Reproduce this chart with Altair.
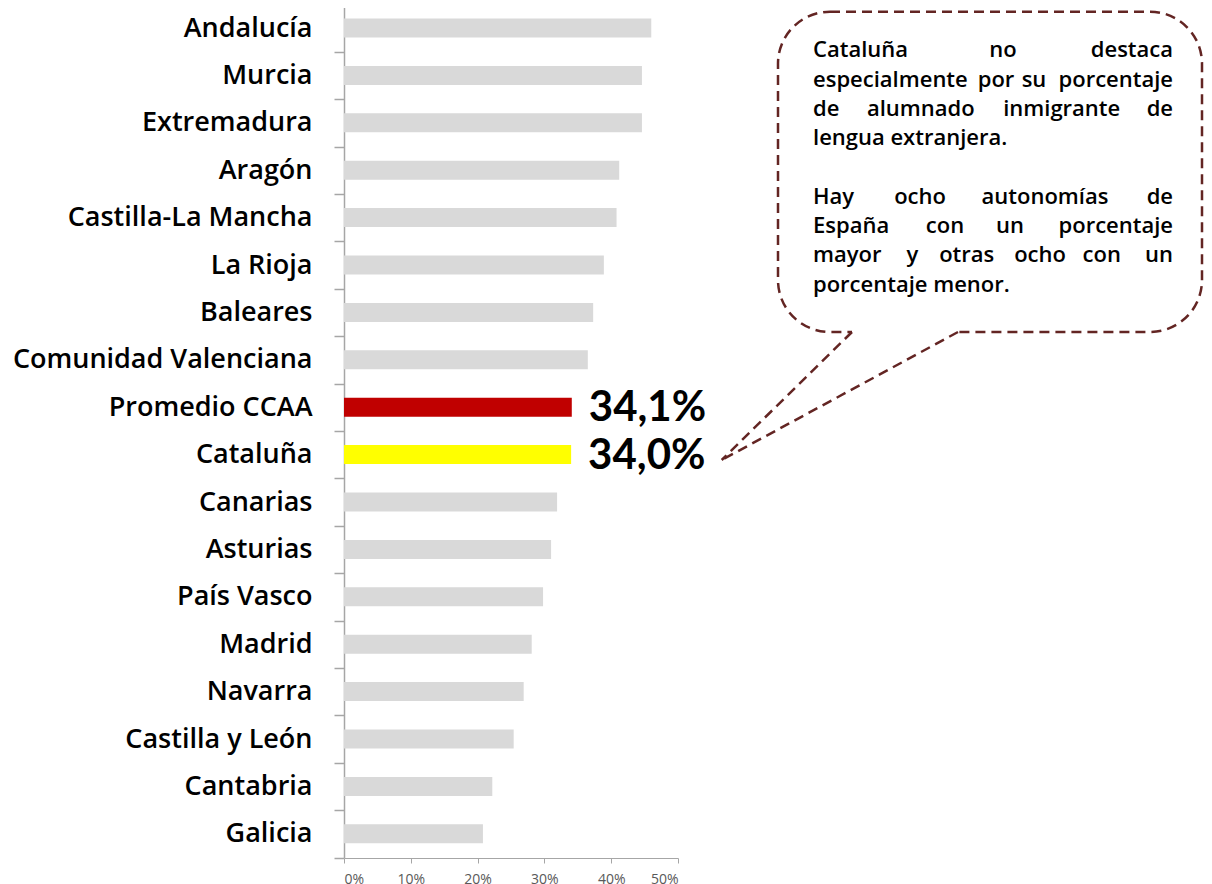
import altair as alt
import pandas as pd

# ---- data ----
regions = ["Andalucía", "Murcia", "Extremadura", "Aragón", "Castilla-La Mancha",
           "La Rioja", "Baleares", "Comunidad Valenciana", "Promedio CCAA", "Cataluña",
           "Canarias", "Asturias", "País Vasco", "Madrid", "Navarra",
           "Castilla y León", "Cantabria", "Galicia"]
values_pct = [46.0, 44.6, 44.6, 41.2, 40.8, 38.9, 37.3, 36.5, 34.1, 34.0,
              31.9, 31.0, 29.8, 28.1, 26.9, 25.4, 22.2, 20.8]
highlight_colors = {"Promedio CCAA": "#c00000", "Cataluña": "#ffff00"}
base_color = "#d9d9d9"
x_ticks = [0, 0.1, 0.2, 0.3, 0.4, 0.5]

callout_lines = [
    ["Cataluña", "no", "destaca"],
    ["especialmente", "por", "su", "porcentaje"],
    ["de", "alumnado", "inmigrante", "de"],
    ["lengua extranjera."],
    ["Hay", "ocho", "autonomías", "de"],
    ["España", "con", "un", "porcentaje"],
    ["mayor", "y", "otras", "ocho", "con", "un"],
    ["porcentaje menor."],
]

df = pd.DataFrame({"region": regions, "value": [v / 100 for v in values_pct]})
df["color"] = [highlight_colors.get(r, base_color) for r in regions]
df["label"] = [(f"{v:.1f}%".replace(".", ",") if r in highlight_colors else "")
               for r, v in zip(regions, values_pct)]

# ---- layout (page pixel positions of the annotation) ----
TEXT_LEFT, TEXT_RIGHT = 813, 1173
line_baselines = [57.3, 87.3, 116.3, 145.3, 204.0, 233.2, 262.3, 292.0]
mid_centers = [
    [1003],
    [996, 1034],
    [920.8, 1061.7],
    [],
    [920, 1045],
    [945, 1010],
    [912.5, 966.7, 1040, 1101.7],
    [],
]
rows = []
for words, yb, mids in zip(callout_lines, line_baselines, mid_centers):
    if len(words) == 1:
        rows.append({"w": words[0], "px": TEXT_LEFT, "py": yb, "al": "left"})
        continue
    rows.append({"w": words[0], "px": TEXT_LEFT, "py": yb, "al": "left"})
    for w, c in zip(words[1:-1], mids):
        rows.append({"w": w, "px": c, "py": yb, "al": "center"})
    rows.append({"w": words[-1], "px": TEXT_RIGHT, "py": yb, "al": "right"})
words_df = pd.DataFrame(rows)

box_df = pd.DataFrame({"x": [778], "x2": [1202], "y": [11.7], "y2": [332]})
gap_df = pd.DataFrame({"x": [852], "x2": [958], "y": [332], "y2": [332]})
tail_df = pd.DataFrame({"x": [852, 958], "y": [332, 332], "x2": [721.7, 721.7], "y2": [460, 460]})

CALLOUT = "#632523"

# ---- bar chart ----
y_enc = alt.Y(
    "region:N", sort=regions,
    scale=alt.Scale(domain=regions, range=[-3.7, 849.5], paddingInner=0, paddingOuter=0),
    axis=alt.Axis(title=None, labelFont="Open Sans", labelFontSize=27, labelFontWeight=600,
                  labelColor="#000000", labelPadding=22, tickSize=10, tickColor="#a6a6a6",
                  domainColor="#a6a6a6", domainWidth=1.5, tickWidth=1.5, tickBand="extent",
                  grid=False, labelLimit=500),
)
x_enc = alt.X(
    "value:Q",
    scale=alt.Scale(domain=[0, 0.5], nice=False),
    axis=alt.Axis(values=x_ticks, format=".0%", title=None, labelFont="Open Sans",
                  labelFontSize=14, labelColor="#595959", tickSize=5, labelPadding=9,
                  domainColor="#a6a6a6", tickColor="#a6a6a6", grid=False),
)

bars = alt.Chart(df).mark_bar(size=19).encode(
    x=x_enc, y=y_enc, color=alt.Color("color:N", scale=None)
)
numbers = alt.Chart(df).transform_filter("datum.label != ''").mark_text(
    align="left", baseline="middle", dx=17, dy=1, font="Lato", fontSize=42,
    fontWeight="bold", color="#000000"
).encode(x=x_enc, y=y_enc, text="label:N")

bar_group = alt.layer(bars, numbers)

# ---- annotation (page-pixel scales) ----
px = alt.Scale(domain=[344, 678], range=[0, 334], nice=False, zero=False)
py = alt.Scale(domain=[8, 858], range=[0, 850], nice=False, zero=False)

box = alt.Chart(box_df).mark_rect(
    fillOpacity=0, stroke=CALLOUT, strokeWidth=2.5, strokeDash=[10, 6], cornerRadius=52
).encode(
    x=alt.X("x:Q", scale=px, axis=None), x2="x2:Q",
    y=alt.Y("y:Q", scale=py, axis=None), y2="y2:Q",
)
gap = alt.Chart(gap_df).mark_rule(color="white", strokeWidth=6).encode(
    x=alt.X("x:Q", scale=px, axis=None), x2="x2:Q",
    y=alt.Y("y:Q", scale=py, axis=None), y2="y2:Q",
)
tail = alt.Chart(tail_df).mark_rule(color=CALLOUT, strokeWidth=2.5, strokeDash=[10, 6]).encode(
    x=alt.X("x:Q", scale=px, axis=None), x2="x2:Q",
    y=alt.Y("y:Q", scale=py, axis=None), y2="y2:Q",
)

def word_layer(al):
    return alt.Chart(words_df).transform_filter(f"datum.al == '{al}'").mark_text(
        align=al, baseline="alphabetic", font="Open Sans", fontSize=22, fontWeight=600,
        color="#000000"
    ).encode(
        x=alt.X("px:Q", scale=px, axis=None),
        y=alt.Y("py:Q", scale=py, axis=None),
        text="w:N",
    )

annot_group = alt.layer(box, gap, tail, word_layer("left"), word_layer("center"), word_layer("right"))

chart = alt.layer(bar_group, annot_group).resolve_scale(
    x="independent", y="independent"
).properties(
    width=334, height=850,
    autosize=alt.AutoSizeParams(type="none"),
    padding={"left": 336, "top": 0, "right": 526, "bottom": 26},
).configure_view(stroke=None)

chart.save("out.html", embed_options={"renderer": "svg", "actions": False})
